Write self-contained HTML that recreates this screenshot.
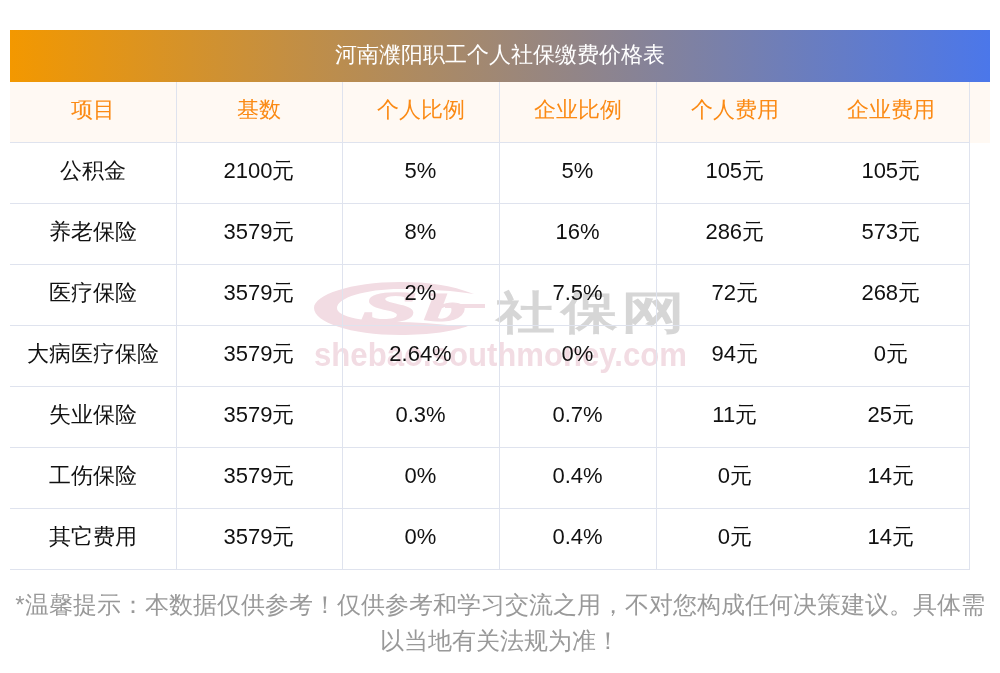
<!DOCTYPE html>
<html><head><meta charset="utf-8">
<style>
html,body{margin:0;padding:0;background:#fff;}
body{width:1000px;height:673px;overflow:hidden;position:relative;font-family:"Liberation Sans",sans-serif;}
.wrap{position:absolute;left:0;top:0;width:1000px;height:673px;will-change:transform;}
.title{position:absolute;left:10px;top:30px;width:980px;height:52px;
 background:linear-gradient(90deg,#f39800 0%,#4b77ea 100%);
 color:#fff;font-size:22px;line-height:50px;text-align:center;}
.hdrbg{position:absolute;left:10px;top:82px;width:980px;height:61px;background:#fff9f3;}
.wm{position:absolute;left:0;top:0;}
table{position:absolute;left:10px;top:82px;border-collapse:collapse;table-layout:fixed;}
td{padding:0 0 4px 0;text-align:center;font-size:22px;color:#111;height:56px;border-right:1px solid #dfe3ee;border-bottom:1px solid #dfe3ee;}
tr.h td{color:#fb8a14;}
td.nb{border-right:none;}
.note{position:absolute;left:10px;top:587px;width:980px;text-align:center;font-size:24px;line-height:36px;color:#999;}
</style></head><body>
<div class="wrap">
<div class="title">河南濮阳职工个人社保缴费价格表</div>
<div class="hdrbg"></div>
<svg class="wm" width="1000" height="673" viewBox="0 0 1000 673">
<path fill="#f2dce3" d="M474,294 C450,285 430,282 400,282 C350,282 314,295 314,308 C314,322 350,335 400,335 C430,335 455,331 468,326 C450,326 425,322 400,322 C365,322 337,317 337,308 C337,298 365,289 400,289 C430,289 455,291 474,294 Z"/>
<text x="361" y="321.5" fill="#f2dce3" font-family="Liberation Serif" font-weight="bold" font-style="italic" font-size="45" textLength="57" lengthAdjust="spacingAndGlyphs" stroke="#f2dce3" stroke-width="1.5">S</text>
<text x="424" y="321" fill="#f2dce3" font-family="Liberation Serif" font-weight="bold" font-style="italic" font-size="37" textLength="42" lengthAdjust="spacingAndGlyphs" stroke="#f2dce3" stroke-width="1">b</text>
<rect x="445" y="304" width="40" height="4" fill="#f2dce3"/>
<g fill="#d6d6d6" font-family="Liberation Sans" font-weight="bold" font-size="45">
<text transform="translate(495.9,328) scale(1.31,1)">社</text>
<text transform="translate(561.1,328) scale(1.254,1)">保</text>
<text transform="translate(620.5,328) scale(1.43,1)">网</text>
</g>
<text x="314" y="366" fill="#f2dce3" font-family="Liberation Sans" font-weight="bold" font-size="34" textLength="373" lengthAdjust="spacingAndGlyphs">shebao.southmoney.com</text>
</svg>
<table>
<colgroup><col style="width:166px"><col style="width:166px"><col style="width:157px"><col style="width:157px"><col style="width:157px"><col style="width:156px"></colgroup>
<tr class="h"><td>项目</td><td>基数</td><td>个人比例</td><td>企业比例</td><td class="nb">个人费用</td><td>企业费用</td></tr>
<tr><td>公积金</td><td>2100元</td><td>5%</td><td>5%</td><td class="nb">105元</td><td>105元</td></tr>
<tr><td>养老保险</td><td>3579元</td><td>8%</td><td>16%</td><td class="nb">286元</td><td>573元</td></tr>
<tr><td>医疗保险</td><td>3579元</td><td>2%</td><td>7.5%</td><td class="nb">72元</td><td>268元</td></tr>
<tr><td>大病医疗保险</td><td>3579元</td><td>2.64%</td><td>0%</td><td class="nb">94元</td><td>0元</td></tr>
<tr><td>失业保险</td><td>3579元</td><td>0.3%</td><td>0.7%</td><td class="nb">11元</td><td>25元</td></tr>
<tr><td>工伤保险</td><td>3579元</td><td>0%</td><td>0.4%</td><td class="nb">0元</td><td>14元</td></tr>
<tr><td>其它费用</td><td>3579元</td><td>0%</td><td>0.4%</td><td class="nb">0元</td><td>14元</td></tr>
</table>
<div class="note">*温馨提示：本数据仅供参考！仅供参考和学习交流之用，不对您构成任何决策建议。具体需以当地有关法规为准！</div>
</div>
</body></html>
